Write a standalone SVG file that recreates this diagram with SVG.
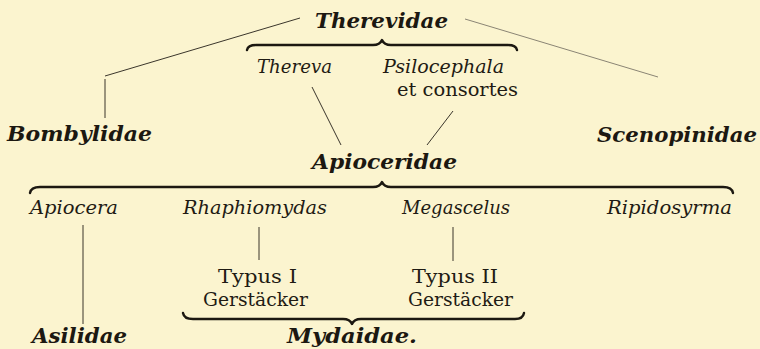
<svg xmlns="http://www.w3.org/2000/svg" width="760" height="349" viewBox="0 0 760 349">
<style>
.bg{fill:#fbf4cf}
.fam{font-family:"DejaVu Serif","Liberation Serif",serif;font-weight:bold;font-style:italic;font-size:21px;fill:#1c1811}
.gen{font-family:"DejaVu Serif","Liberation Serif",serif;font-style:italic;font-size:18px;fill:#1f1b14}
.rom{font-family:"DejaVu Serif","Liberation Serif",serif;font-size:18px;fill:#1f1b14}
.ln{stroke:#3a352b;stroke-width:1;fill:none}
.faint{stroke:#8a8474;stroke-width:1;fill:none}
.brace{stroke:#1c1811;stroke-width:2.4;fill:none;stroke-linejoin:round;stroke-linecap:round}
</style>
<rect class="bg" x="0" y="0" width="760" height="349"/>
<g id="connectors">
<path class="ln" d="M300,18 L105,76"/>
<path class="ln" d="M105,79 L105,118"/>
<path class="faint" d="M465,19 L658,77"/>
<path class="ln" d="M312,87 L341,145"/>
<path class="ln" d="M453,111 L427,145"/>
<path class="ln" d="M83,225 L83,324"/>
<path class="ln" d="M259,227 L259,260"/>
<path class="ln" d="M453,227 L453,261"/>
<path class="brace" d="M247,50 Q248,45 256,45 L373,45 Q380,45 382,40 Q384,45 391,45 L508,45 Q516,45 517,50"/>
<path class="brace" d="M30,193 Q31,187 40,187 L373,187 Q380,187 382,182 Q384,187 391,187 L723,187 Q732,187 733,193"/>
<path class="brace" d="M183,313 Q184,319 193,319 L343,319 Q350,319 352,324 Q354,319 361,319 L515,319 Q523,319 524,313"/>
</g>
<g id="therevidae"><text class="fam" x="315" y="28" textLength="133" lengthAdjust="spacingAndGlyphs">Therevidae</text></g>
<g id="thereva"><text class="gen" x="257" y="73" textLength="75" lengthAdjust="spacingAndGlyphs">Thereva</text></g>
<g id="psilocephala">
<text class="gen" x="383" y="73" textLength="121" lengthAdjust="spacingAndGlyphs">Psilocephala</text>
<text class="rom" x="397" y="96" textLength="121" lengthAdjust="spacingAndGlyphs">et consortes</text>
</g>
<g id="bombylidae"><text class="fam" x="7" y="141" textLength="145" lengthAdjust="spacingAndGlyphs">Bombylidae</text></g>
<g id="scenopinidae"><text class="fam" x="597" y="142" textLength="160" lengthAdjust="spacingAndGlyphs">Scenopinidae</text></g>
<g id="apioceridae"><text class="fam" x="312" y="169" textLength="145" lengthAdjust="spacingAndGlyphs">Apioceridae</text></g>
<g id="apiocera"><text class="gen" x="30" y="214" textLength="88" lengthAdjust="spacingAndGlyphs">Apiocera</text></g>
<g id="rhaphiomydas"><text class="gen" x="183" y="214" textLength="144" lengthAdjust="spacingAndGlyphs">Rhaphiomydas</text></g>
<g id="megascelus"><text class="gen" x="402" y="214" textLength="108" lengthAdjust="spacingAndGlyphs">Megascelus</text></g>
<g id="ripidosyrma"><text class="gen" x="607" y="214" textLength="125" lengthAdjust="spacingAndGlyphs">Ripidosyrma</text></g>
<g id="typus1">
<text class="rom" x="218" y="283" textLength="79" lengthAdjust="spacingAndGlyphs">Typus I</text>
<text class="rom" x="203" y="306" textLength="105" lengthAdjust="spacingAndGlyphs">Gerstäcker</text>
</g>
<g id="typus2">
<text class="rom" x="412" y="283" textLength="86" lengthAdjust="spacingAndGlyphs">Typus II</text>
<text class="rom" x="408" y="306" textLength="105" lengthAdjust="spacingAndGlyphs">Gerstäcker</text>
</g>
<g id="asilidae"><text class="fam" x="32" y="343" font-size="20" textLength="95" lengthAdjust="spacingAndGlyphs">Asilidae</text></g>
<g id="mydaidae"><text class="fam" x="287" y="343" font-size="20" textLength="130" lengthAdjust="spacingAndGlyphs">Mydaidae.</text></g>
</svg>
